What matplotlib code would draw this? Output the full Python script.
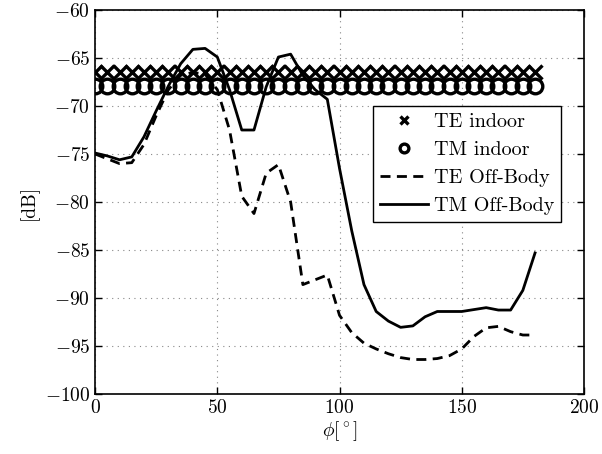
import numpy as np
import matplotlib
matplotlib.use("Agg")
import matplotlib.pyplot as plt

plt.rcParams["font.family"] = "serif"
plt.rcParams["font.serif"] = ["cmr10"]
plt.rcParams["mathtext.fontset"] = "cm"
plt.rcParams["axes.formatter.use_mathtext"] = True
plt.rcParams["font.size"] = 14

# Angle grid (degrees)
phi = np.arange(0, 181, 5)

# Indoor reference levels [dB]
te_indoor_level = -66.5
tm_indoor_level = -67.9

# Off-body measurements [dB]
te_offbody = [-75.0, -75.5, -76.0, -75.9, -74.0, -71.0, -68.3, -66.8, -66.5, -66.7,
              -68.3, -72.5, -79.4, -81.2, -77.0, -76.1, -80.0, -88.6, -88.1, -87.6,
              -91.8, -93.6, -94.7, -95.3, -95.8, -96.2, -96.4, -96.4, -96.3, -96.0,
              -95.3, -94.0, -93.1, -92.95, -93.5, -93.85, -93.85]
tm_offbody = [-74.9, -75.2, -75.6, -75.3, -73.2, -70.5, -67.9, -65.6, -64.1, -64.0,
              -64.9, -68.3, -72.5, -72.5, -68.0, -64.9, -64.6, -66.8, -68.3, -69.3,
              -76.5, -83.0, -88.6, -91.4, -92.4, -93.05, -92.9, -91.95, -91.4, -91.4,
              -91.4, -91.2, -91.0, -91.25, -91.25, -89.2, -85.3]

fig = plt.figure(figsize=(6.02, 4.54), dpi=100)
ax = fig.add_axes([0.158, 0.132, 0.812, 0.846])

ax.plot(phi, np.full(phi.shape, te_indoor_level), linestyle="none", marker="x",
        ms=10, mew=2.4, color="black", label="TE indoor")
ax.plot(phi, np.full(phi.shape, tm_indoor_level), linestyle="none", marker="o",
        ms=10.5, mew=2.4, mfc="none", color="black", label="TM indoor")
ax.plot(phi, te_offbody, color="black", lw=2, linestyle=(0, (3.6, 2.3)),
        label="TE Off-Body")
ax.plot(phi, tm_offbody, color="black", lw=2, label="TM Off-Body")

ax.set_xlim(0, 200)
ax.set_ylim(-100, -60)
ax.set_xticks(np.arange(0, 201, 50))
ax.set_yticks(np.arange(-100, -59, 5))
ax.tick_params(direction="in", top=True, right=True, length=5, width=1)
ax.grid(True, linestyle=(0, (1, 4)), color="#888888", linewidth=0.8)
for s in ax.spines.values():
    s.set_linewidth(1.2)

ax.set_xlabel(r"$\phi[^\circ]$", labelpad=2)
ax.set_ylabel("[dB]")

leg = ax.legend(loc="upper right", bbox_to_anchor=(0.954, 0.751), fancybox=False,
                edgecolor="black", framealpha=1, borderaxespad=0,
                handlelength=2.4, handletextpad=0.3, borderpad=0.35,
                labelspacing=0.5, markerscale=0.6, fontsize=14.5)
leg.get_frame().set_linewidth(1.0)

fig.savefig("out.png", dpi=100)
